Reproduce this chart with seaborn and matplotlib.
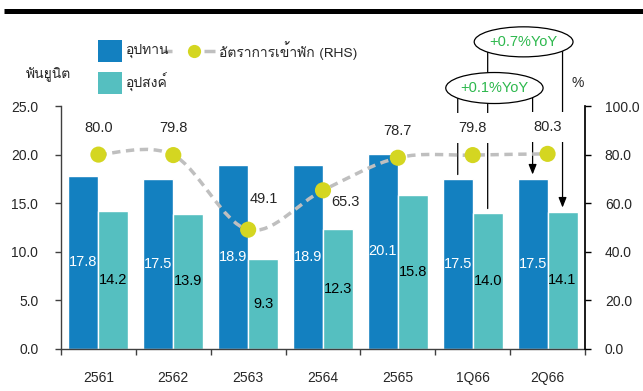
import numpy as np
import pandas as pd
import matplotlib
matplotlib.use("Agg")
import matplotlib.pyplot as plt
import seaborn as sns
from matplotlib import font_manager as fm
from matplotlib.ft2font import FT2Font
from matplotlib.patches import Ellipse, Rectangle, PathPatch
from matplotlib.path import Path
from matplotlib.ticker import FormatStrFormatter, FixedLocator

# ---------------- data ----------------
categories = ["2561", "2562", "2563", "2564", "2565", "1Q66", "2Q66"]
supply = [17.8, 17.5, 18.9, 18.9, 20.1, 17.5, 17.5]
demand = [14.2, 13.9, 9.3, 12.3, 15.8, 14.0, 14.1]
occupancy = [80.0, 79.8, 49.1, 65.3, 78.7, 79.8, 80.3]
supply_label = "อุปทาน"
demand_label = "อุปสงค์"
occ_label = "อัตราการเข้าพัก (RHS)"
yoy_supply = "+0.1%YoY"
yoy_demand = "+0.7%YoY"

# ---------------- fonts ----------------
def find_thai_font():
    seen = set()
    for f in fm.fontManager.ttflist:
        if f.name in seen:
            continue
        seen.add(f.name)
        try:
            ft = FT2Font(f.fname)
            if ft.get_char_index(ord("อ")) != 0:
                return f.name
        except Exception:
            pass
    return None

thai = find_thai_font()
sns.set_theme(style="white")
fam = ["Liberation Sans", "DejaVu Sans"]
thai_fam = ([thai] if thai else []) + fam
plt.rcParams["font.family"] = fam

BLUE = "#1380C0"
TEAL = "#55BFC0"
YEL = "#D4D621"
GRAY = "#BFBFBF"
GREEN = "#2DB84D"

W, H = 643, 391
fig = plt.figure(figsize=(W / 100, H / 100), dpi=100)
ax = fig.add_axes([61 / W, 1 - 349 / H, (585 - 61) / W, (349 - 106) / H])

df = pd.DataFrame({
    "cat": categories * 2,
    "val": supply + demand,
    "series": [supply_label] * len(categories) + [demand_label] * len(categories),
})
sns.barplot(data=df, x="cat", y="val", hue="series", order=categories,
            hue_order=[supply_label, demand_label],
            palette=[BLUE, TEAL], width=0.8, saturation=1,
            edgecolor="white", linewidth=1, legend=False, ax=ax, zorder=2)
ax.set_xlim(-0.5, len(categories) - 0.5)
ax.set_ylim(0, 25)
ax.set_xlabel("")
ax.set_ylabel("")
ax.yaxis.set_major_formatter(FormatStrFormatter("%.1f"))
ax.set_yticks(np.arange(0, 25.1, 5))
ax.tick_params(axis="y", which="major", direction="out", length=4.3, width=1,
               color="#404040", pad=12, labelsize=10, left=True)
ax.tick_params(axis="x", which="major", length=0, pad=16, labelsize=10)
ax.xaxis.set_minor_locator(FixedLocator(np.arange(-0.5, len(categories), 1.0)))
ax.tick_params(axis="x", which="minor", direction="out", length=4.3, width=1,
               color="#404040", bottom=True)
for s in ["top", "right"]:
    ax.spines[s].set_visible(False)
for s in ["left", "bottom"]:
    ax.spines[s].set_color("#404040")
    ax.spines[s].set_linewidth(1)

# bar value labels
for i, (s, d) in enumerate(zip(supply, demand)):
    ax.text(i - 0.2, s / 2, f"{s:.1f}", ha="center", va="center",
            color="white", fontsize=10.5, zorder=5)
    ax.text(i + 0.2, d / 2, f"{d:.1f}", ha="center", va="center",
            color="black", fontsize=10.5, zorder=5)

# right axis: occupancy
ax2 = ax.twinx()
ax2.set_ylim(0, 100)
ax2.set_yticks(np.arange(0, 100.1, 20))
ax2.yaxis.set_major_formatter(FormatStrFormatter("%.1f"))
ax2.tick_params(axis="y", direction="out", length=4.3, width=1, color="black",
                pad=10, labelsize=10, right=True)
for s in ["top", "left", "bottom"]:
    ax2.spines[s].set_visible(False)
ax2.spines["right"].set_color("black")
ax2.grid(False)

xs = np.arange(len(categories), dtype=float)
ys = np.array(occupancy)
# smooth dashed curve through the points (Catmull-Rom as cubic Bezier)
verts = [(xs[0], ys[0])]
codes = [Path.MOVETO]
n = len(xs)
for i in range(n - 1):
    p0 = np.array([xs[max(i - 1, 0)], ys[max(i - 1, 0)]])
    p1 = np.array([xs[i], ys[i]])
    p2 = np.array([xs[i + 1], ys[i + 1]])
    p3 = np.array([xs[min(i + 2, n - 1)], ys[min(i + 2, n - 1)]])
    c1 = p1 + (p2 - p0) / 6
    c2 = p2 - (p3 - p1) / 6
    verts += [tuple(c1), tuple(c2), tuple(p2)]
    codes += [Path.CURVE4] * 3
ax2.add_patch(PathPatch(Path(verts, codes), facecolor="none", edgecolor=GRAY,
                        lw=2.5, linestyle=(0, (2.4, 1.6)), zorder=3))
sns.scatterplot(x=xs, y=ys, color=YEL, s=135, edgecolor="none", zorder=4, ax=ax2,
                legend=False)

offsets = [(0, 19.5), (0, 19.5), (11, 22), (16, -8.5), (0, 19.5), (0, 19.5), (0, 19.5)]
for i, (v, off) in enumerate(zip(occupancy, offsets)):
    ax2.annotate(f"{v:.1f}", (xs[i], v), xytext=off, textcoords="offset points",
                 ha="center", va="center", fontsize=10.5, zorder=6,
                 bbox=dict(boxstyle="square,pad=0.55", fc="white", ec="none") if i >= 5 else None)

# YoY callouts (in left-axis data coords, above the plot)
e1c = (5.29, 26.85)   # +0.1% (supply)
e2c = (5.68, 31.6)    # +0.7% (demand)

def vline(x, y0, y1, arrow):
    ax.annotate("", xy=(x, y1), xytext=(x, y0), xycoords="data",
                annotation_clip=False, zorder=4,
                arrowprops=dict(arrowstyle="-|>,head_length=0.5,head_width=0.2" if arrow else "-",
                                color="black", lw=0.9, shrinkA=0, shrinkB=0))

# demand lines (from +0.7% ellipse)
vline(5 + 0.2, e2c[1], demand[5] + 0.45, False)
vline(6 + 0.2, e2c[1], demand[6] + 0.45, True)
# supply lines (from +0.1% ellipse)
vline(5 - 0.2, e1c[1], supply[5] + 0.45, False)
vline(6 - 0.2, e1c[1], supply[6] + 0.45, True)

ax.add_patch(Ellipse(e2c, 1.32, 3.09, fc="white", ec="black", lw=0.9,
                     clip_on=False, zorder=7))
ax.text(e2c[0], e2c[1], yoy_demand, ha="center", va="center", color=GREEN,
        fontsize=10.5, zorder=8, clip_on=False)
ax.add_patch(Ellipse(e1c, 1.30, 3.19, fc="white", ec="black", lw=0.9,
                     clip_on=False, zorder=7))
ax.text(e1c[0], e1c[1], yoy_supply, ha="center", va="center", color=GREEN,
        fontsize=10.5, zorder=8, clip_on=False)

# ---------------- overlay in pixel coordinates ----------------
ov = fig.add_axes([0, 0, 1, 1], facecolor="none")
ov.set_xlim(0, W)
ov.set_ylim(H, 0)
ov.axis("off")
ov.plot([4, W], [11, 11], color="black", lw=3.6, solid_capstyle="butt")

ov.add_patch(Rectangle((98, 40), 24, 22, fc=BLUE, ec="none"))
ov.add_patch(Rectangle((98, 72), 24, 22, fc=TEAL, ec="none"))
ov.text(126, 51, supply_label, ha="left", va="center", fontsize=10, family=thai_fam)
ov.text(126, 83, demand_label, ha="left", va="center", fontsize=10, family=thai_fam)
ov.plot([163, 172], [51, 51], color=GRAY, lw=2.5, solid_capstyle="butt")
ov.plot([204, 215], [51, 51], color=GRAY, lw=2.5, solid_capstyle="butt")
ov.plot([194], [51], marker="o", ms=9.5, color=YEL, mec="none")
ov.text(219, 51, occ_label, ha="left", va="center", fontsize=10, family=thai_fam)

ov.text(48, 75, "พันยูนิต", ha="center", va="center", fontsize=10, family=thai_fam)
ov.text(578, 83, "%", ha="center", va="center", fontsize=10)

fig.savefig("out.png", dpi=100)
